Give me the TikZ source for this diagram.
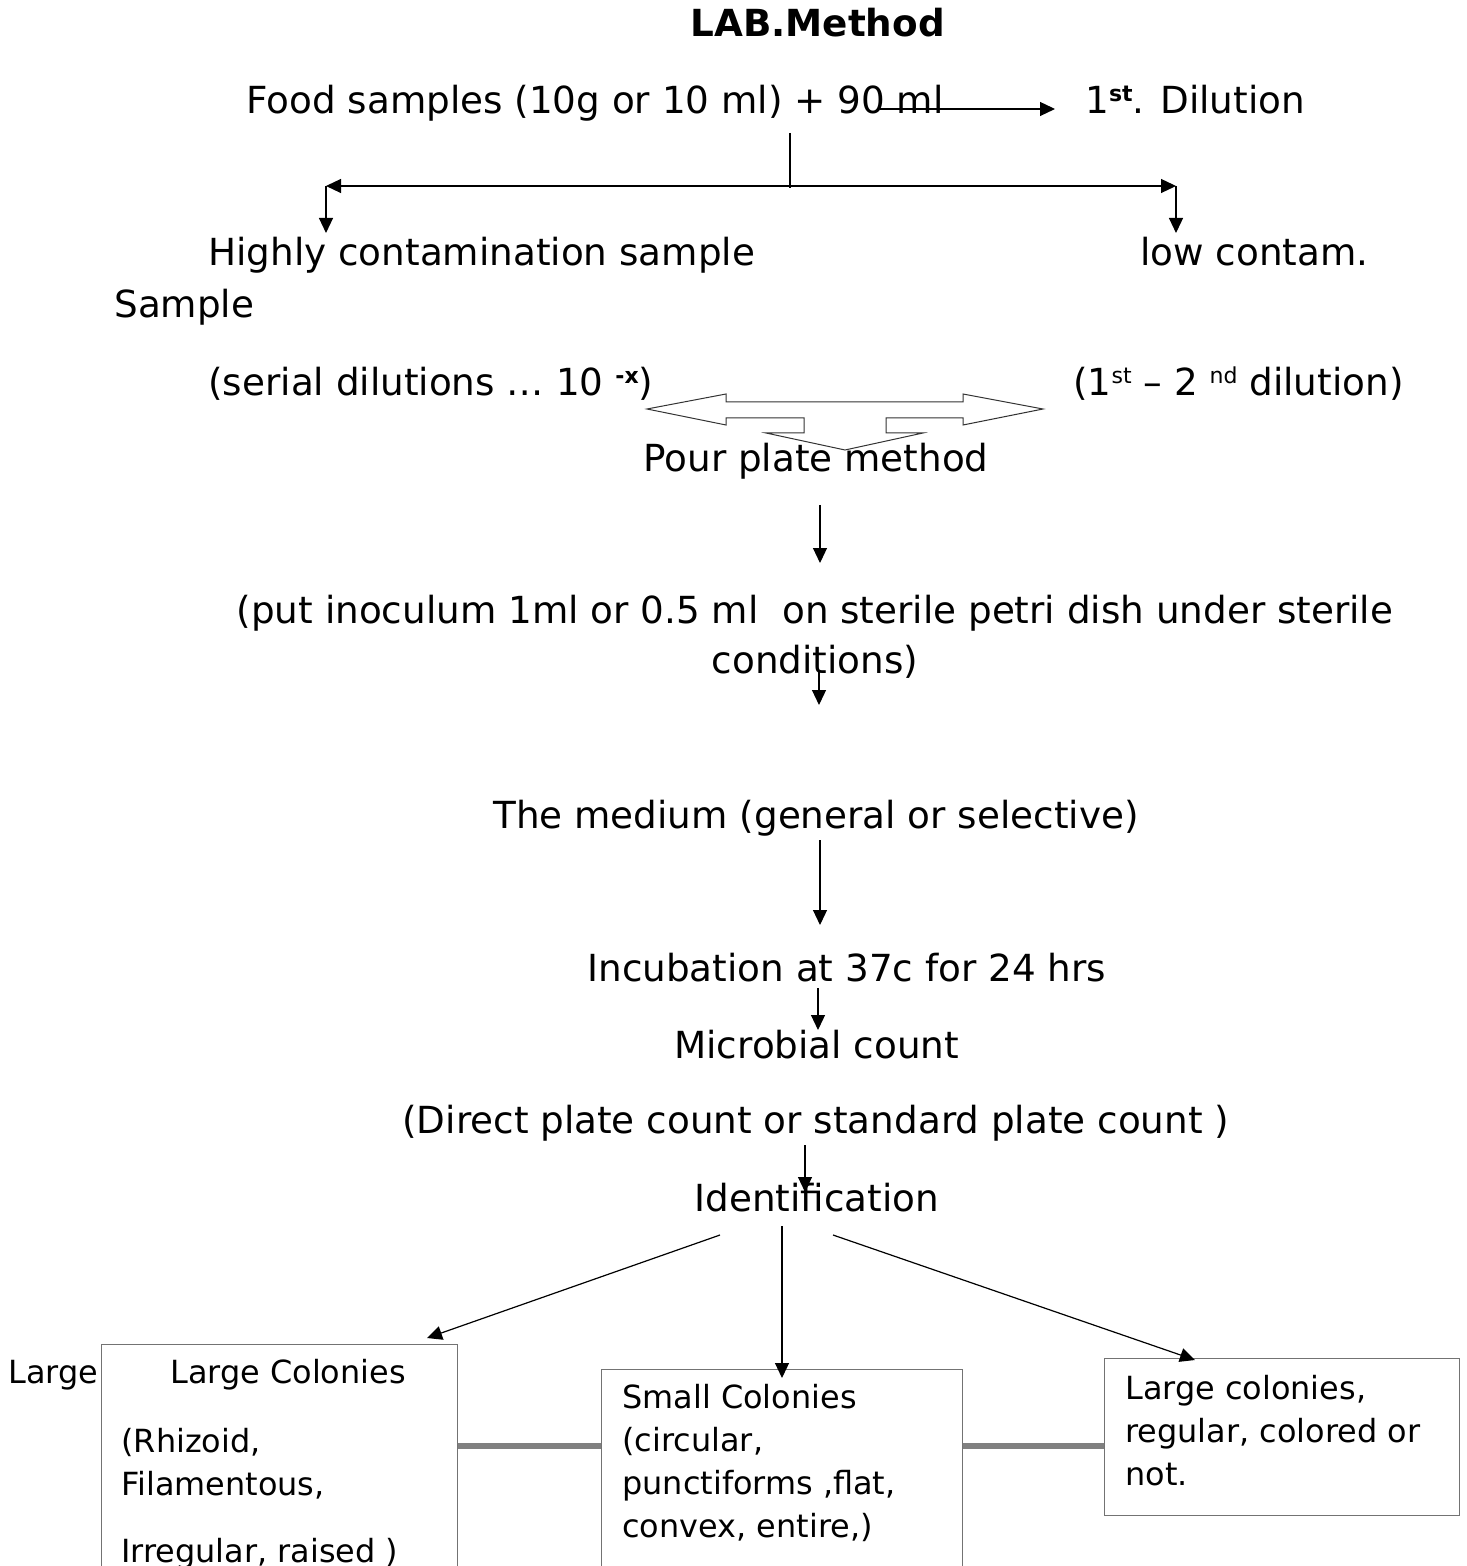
\documentclass[tikz,border=0pt]{standalone}
\usepackage{fontspec}
\setmainfont{DejaVu Sans}
\usetikzlibrary{positioning, arrows.meta}
\newcommand{\mainsz}{\fontsize{18.65pt}{25pt}\selectfont}
\newcommand{\boxsz}{\fontsize{15.95pt}{21.5pt}\selectfont}
\newcommand{\sups}[1]{\raisebox{6pt}{\fontsize{11pt}{11pt}\selectfont #1}}
\tikzset{
  txt/.style={inner sep=0pt, anchor=base west, font=\mainsz},
  colbox/.style={draw=black!55, line width=0.7pt, anchor=north west, inner sep=0pt},
  boxtxt/.style={inner sep=0pt, align=left, font=\boxsz},
  link/.style={draw=black!50, line width=3pt},
  flow/.style={line width=0.6pt},
  >={Triangle[length=7.5pt, width=7pt]},
}

\begin{document}
\begin{tikzpicture}[x=0.5pt, y=-0.5pt]
    \useasboundingbox (0,0) rectangle (1466,1566);
    \clip (0,0) rectangle (1466,1566);

    % heading and first dilution
    \node[txt, font=\mainsz\bfseries] (title) at (690,37) {LAB.Method};
    \node[txt] (food) at (246,114) {Food samples (10g or 10 ml) + 90 ml};
    \node[txt] (dil1) at (1085,114) {1\sups{\bfseries st}. Dilution};
    \coordinate (foodR) at (880,109);
    \coordinate (dil1L) at (1055,109);
    \draw[flow, ->] (foodR) -- (dil1L);

    % split
    \coordinate (top) at (790,133);
    \coordinate (mid) at (790,188);
    \coordinate (splitL) at (326,186);
    \coordinate (splitR) at (1176,186);
    \coordinate (downL) at (326,233);
    \coordinate (downR) at (1176,233);
    \draw[flow] (top) -- (mid);
    \draw[flow, <->] (splitL) -- (splitR);
    \draw[flow, ->] (splitL) -- (downL);
    \draw[flow, ->] (splitR) -- (downR);

    \node[txt] (high) at (208,266) {Highly contamination sample};
    \node[txt] (low) at (1140,266) {low contam.};
    \node[txt] (samp) at (114,318) {Sample};
    \node[txt] (serial) at (208,396) {(serial dilutions … 10 \sups{\bfseries -x})};
    \node[txt] (firsts) at (1073,396) {(1\sups{st} – 2 \sups{nd} dilution)};

    % left-right-down block arrow
    \draw[black!80, line width=0.5pt] (647,409) -- (726,394) -- (726,402) -- (963,402)
      -- (963,394) -- (1043,409) -- (963,425) -- (963,418) -- (886,418) -- (886,433)
      -- (923,433) -- (845,450) -- (766,433) -- (804,433) -- (804,418) -- (726,418)
      -- (726,425) -- cycle;

    \node[txt] (pour) at (643,472) {Pour plate method};
    \coordinate (a1) at (820,505);
    \coordinate (a2) at (820,563);
    \draw[flow, ->] (a1) -- (a2);

    \node[txt, anchor=base] (inoc) at (815,623) {(put inoculum 1ml or 0.5 ml\ \ on sterile petri dish under sterile};
    \node[txt, anchor=base] (cond) at (815,673) {conditions)};
    \coordinate (b1) at (819,670);
    \coordinate (b2) at (819,705);
    \draw[flow, ->] (b1) -- (b2);

    \node[txt] (medium) at (493,828) {The medium (general or selective)};
    \coordinate (c1) at (820,840);
    \coordinate (c2) at (820,925);
    \draw[flow, ->] (c1) -- (c2);

    \node[txt] (incub) at (587,981) {Incubation at 37c for 24 hrs};
    \coordinate (d1) at (818,988);
    \coordinate (d2) at (818,1030);
    \draw[flow, ->] (d1) -- (d2);

    \node[txt] (count) at (674,1058) {Microbial count};
    \node[txt] (direct) at (402,1133) {(Direct plate count or standard plate count )};
    \coordinate (e1) at (805,1145);
    \coordinate (e2) at (805,1192);
    \draw[flow, ->] (e1) -- (e2);

    \node[txt] (ident) at (694,1211) {Identification};

    % colony boxes
    \node[colbox, minimum width=178pt, minimum height=140pt] (bigL) at (101,1344) {};
    \node[colbox, minimum width=180.5pt, minimum height=120pt] (small) at (601,1369) {};
    \node[colbox, minimum width=177.5pt, minimum height=78.5pt] (bigR) at (1104,1358) {};
    \node[boxtxt, below right=4.5pt and 10pt of bigL.north west] (bigLtxt)
      {\strut\hspace*{24.5pt}Large Colonies\\[13pt]\strut(Rhizoid,\\\strut Filamentous,\\[12pt]\strut Irregular, raised )};
    \node[boxtxt, below right=4.5pt and 10.5pt of small.north west] (smalltxt)
      {\strut Small Colonies\\\strut(circular,\\\strut punctiforms ,flat,\\\strut convex, entire,)};
    \node[boxtxt, below right=5.5pt and 10.5pt of bigR.north west] (bigRtxt)
      {\strut Large colonies,\\\strut regular, colored or\\\strut not.};
    \node[txt, font=\boxsz] (large) at (8,1383) {Large};

    \coordinate (f1) at (720,1235);
    \coordinate (f2) at (782,1226);
    \coordinate (f3) at (833,1235);
    \coordinate (g1) at (427,1338);
    \coordinate (g2) at (782,1378);
    \coordinate (g3) at (1195,1360);
    \draw[flow, ->] (f1) -- (g1);
    \draw[flow, ->] (f2) -- (g2);
    \draw[flow, ->] (f3) -- (g3);

    \coordinate (lk) at (0,1446);
    \draw[link] (bigL.east |- lk) -- (small.west |- lk);
    \draw[link] (small.east |- lk) -- (bigR.west |- lk);
  \end{tikzpicture}
\end{document}
